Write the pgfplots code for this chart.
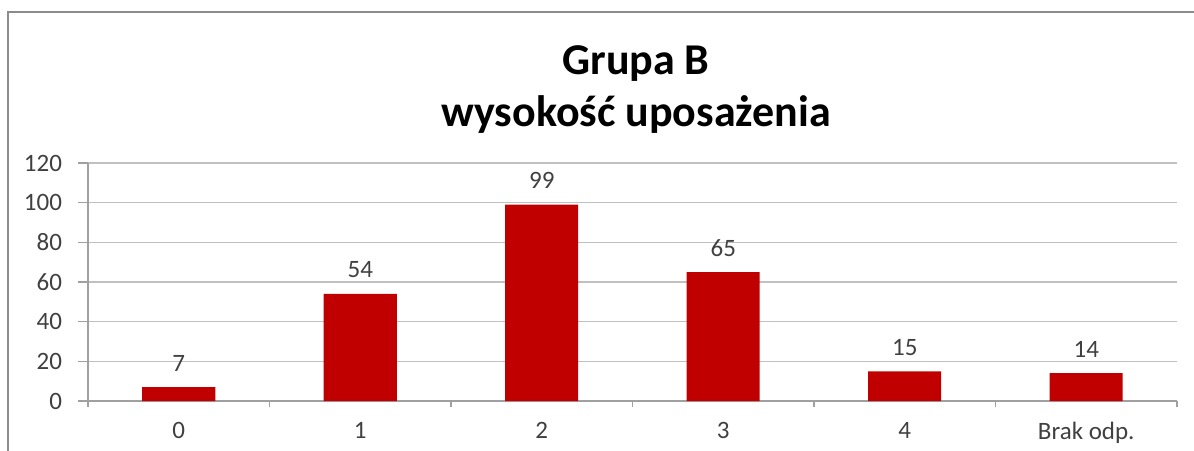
\documentclass[border=0pt]{standalone}
\usepackage{pgfplots}
\pgfplotsset{compat=1.18}
\usepackage{fontspec}
\setmainfont{Carlito}
\definecolor{barred}{HTML}{C00000}
\definecolor{txt}{HTML}{404040}
\definecolor{gridc}{HTML}{C0C0C0}
\definecolor{axisc}{HTML}{A0A0A0}
\definecolor{framec}{HTML}{8C8C8C}
\begin{document}
\begin{tikzpicture}[x=0.5pt,y=0.5pt]
\useasboundingbox (0,0) rectangle (1194,450);
\draw[framec, line width=1.3pt] (8,-10) -- (8,438) -- (1210,438);
\node[anchor=base, font=\fontsize{22}{26}\selectfont\bfseries] at (636,375) {Grupa B};
\node[anchor=base, font=\fontsize{22}{26}\selectfont\bfseries] at (636,323) {wysokość uposażenia};
\begin{axis}[
  at={(44pt,24.5pt)}, anchor=south west,
  scale only axis, width=544.5pt, height=119pt,
  xmin=-0.5, xmax=5.5, ymin=0, ymax=120,
  ytick={0,20,...,120},
  xtick={0,1,2,3,4,5},
  xticklabels={0,1,2,3,4,Brak odp.},
  minor xtick={-0.5,0.5,...,5.5},
  axis x line*=bottom, axis y line*=left,
  axis line style={axisc, line width=0.6pt},
  x axis line style={-}, y axis line style={-},
  ymajorgrids, grid style={gridc, line width=0.7pt},
  major x tick style={draw=none},
  minor x tick style={axisc, line width=0.6pt},
  minor tick length=3pt,
  major tick length=5pt,
  y tick style={axisc, line width=0.6pt},
  tick align=outside,
  tick label style={font=\fontsize{12.5}{15}\selectfont, text=txt},
  yticklabel style={xshift=-4.5pt},
  xticklabel style={yshift=-2pt},
  /pgf/number format/assume math mode=true,
  ybar, bar width=36.5pt,
  nodes near coords,
  nodes near coords style={font=\fontsize{12.5}{15}\selectfont, text=txt, anchor=center, yshift=12pt},
]
\addplot[fill=barred, draw=none] coordinates {(0,7) (1,54) (2,99) (3,65) (4,15) (5,14)};
\end{axis}
\end{tikzpicture}
\end{document}
